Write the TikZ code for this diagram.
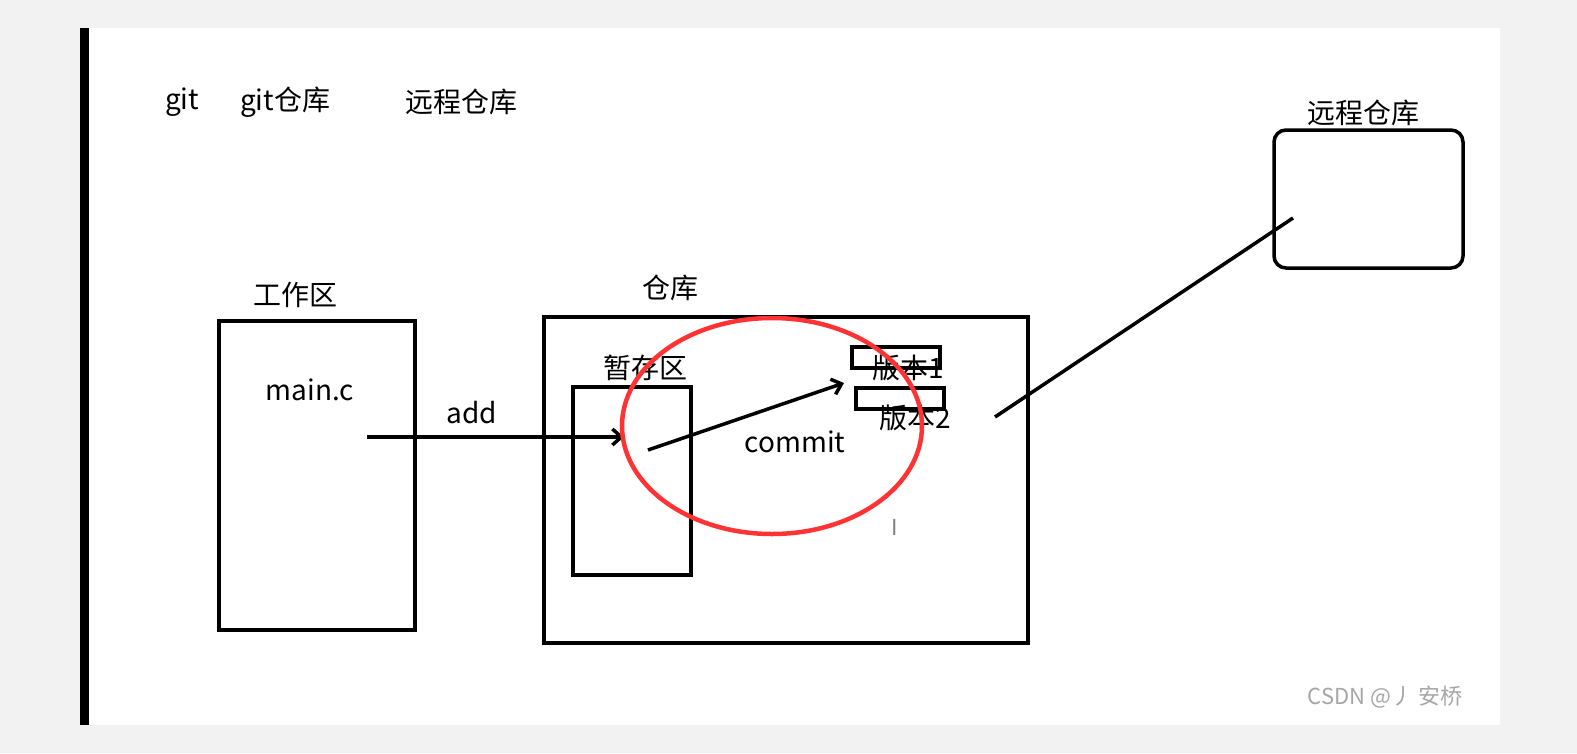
\documentclass[tikz,border=0pt]{standalone}
\usepackage{fontspec}
\usetikzlibrary{arrows.meta}
\setmainfont{Noto Sans CJK SC}
\begin{document}
\begin{tikzpicture}[x=1pt,y=-1pt,
  lbl/.style={font=\fontsize{28}{32}\selectfont, inner sep=0},
  bx/.style={draw, line width=3.5pt},
  ar/.style={line width=3.5pt, -{Straight Barb[length=9pt,width=16pt]}}]
\useasboundingbox (0,0) rectangle (1577,753);
\fill[gray!10] (0,0) rectangle (1577,753);
\fill[white] (80,28) rectangle (1500,725);
\fill[black] (80,28) rectangle (89,725);
\node[lbl, anchor=west] (t1) at (165,102) {git};
\node[lbl, anchor=west] (t2) at (240,102) {git仓库};
\node[lbl, anchor=west] (t3) at (405,102) {远程仓库};
\node[lbl] (rl) at (1363,113) {远程仓库};
\node[bx, rounded corners=12pt, minimum width=189pt, minimum height=138pt] (remote) at (1368.5,199) {};
\node[lbl] (wl) at (295,295) {工作区};
\node[bx, minimum width=196pt, minimum height=309pt] (work) at (317,475.5) {};
\node[lbl] (mc) at (310,390) {main.c};
\node[lbl] (cl) at (670,288) {仓库};
\node[bx, minimum width=484pt, minimum height=326pt] (repo) at (786,480) {};
\node[lbl] (sl) at (645,368) {暂存区};
\node[bx, minimum width=118pt, minimum height=188pt] (stage) at (632,481) {};
\node[bx, minimum width=88pt, minimum height=21pt] (v1) at (896,357.5) {};
\node[bx, minimum width=88pt, minimum height=21pt] (v2) at (900,398.5) {};
\node[lbl] (v1t) at (908,368) {版本1};
\node[lbl] (v2t) at (915,418) {版本2};
\coordinate (a1) at (367,437); \coordinate (a2) at (624,437);
\draw[ar] (a1) -- (a2);
\node[lbl] (add) at (472,413) {add};
\coordinate (c1) at (648,450); \coordinate (c2) at (844,383);
\draw[ar] (c1) -- (c2);
\node[lbl] (cm) at (795,442) {commit};
\coordinate (l1) at (995,417); \coordinate (l2) at (1293,218);
\draw[line width=3.5pt] (l1) -- (l2);
\draw[red!80!white, line width=4.5pt] (772,426) ellipse [x radius=150, y radius=108];
\node[font=\fontsize{22}{24}\selectfont, text=gray] (cur) at (895,527) {I};
\node[font=\fontsize{22}{26}\selectfont, text=gray!70] (csdn) at (1385,697) {CSDN @丿 安桥};
\end{tikzpicture}
\end{document}
